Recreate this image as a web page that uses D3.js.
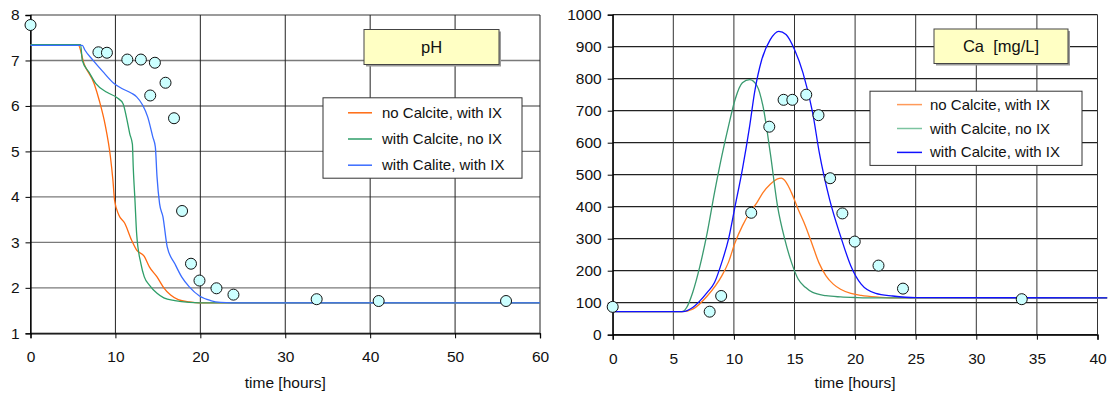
<!DOCTYPE html>
<html>
<head>
<meta charset="utf-8">
<script src="https://cdn.jsdelivr.net/npm/d3@7"></script>
<style>
  html, body { margin: 0; padding: 0; background: #fff; }
  svg { display: block; font-family: "Liberation Sans", Arial, sans-serif; }
</style>
</head>
<body>
<svg id="chart" width="1109" height="394"></svg>
<script>
// ---- pH panel: measured effluent pH ----
const phObsTime = [0, 8, 9, 11.4, 13, 14.65, 14.1, 15.9, 16.9, 17.85, 18.9, 19.9, 21.9, 23.9, 33.7, 41, 56];
const phObsValue = [7.78, 7.18, 7.17, 7.02, 7.02, 6.95, 6.23, 6.51, 5.73, 3.69, 2.53, 2.16, 1.99, 1.85, 1.75, 1.71, 1.71];

// simulated pH, no calcite with ion exchange
const phNoCalciteT = [0, 5.6, 6.3, 7.5, 8.1, 8.8, 9.4, 9.7, 9.9, 10.4, 11.1, 11.9, 12.5, 13.4, 14.0, 14.9, 15.7, 16.5, 17.4, 18.7, 19.9, 60];
const phNoCalciteV = [7.35, 7.35, 6.93, 6.49, 6.12, 5.58, 4.9, 4.38, 3.93, 3.6, 3.42, 3.05, 2.83, 2.69, 2.46, 2.24, 2.0, 1.84, 1.74, 1.69, 1.67, 1.67];
// simulated pH, calcite without ion exchange
const phCalciteNoIxT = [0, 5.9, 6.1, 6.9, 7.7, 9.0, 10.2, 10.9, 11.3, 11.7, 12.0, 12.1, 12.3, 12.5, 13.0, 13.4, 14.0, 14.9, 15.7, 17.0, 18.7, 19.9, 60];
const phCalciteNoIxV = [7.35, 7.35, 7.0, 6.74, 6.49, 6.3, 6.18, 6.05, 5.75, 5.38, 5.16, 4.65, 3.93, 3.19, 2.53, 2.24, 2.06, 1.88, 1.78, 1.72, 1.68, 1.67, 1.67];
// simulated pH, calcite with ion exchange
const phCalciteIxT = [0, 6.1, 6.4, 7.3, 8.5, 9.8, 10.7, 11.9, 12.5, 13.2, 13.8, 14.4, 14.7, 14.9, 15.2, 15.6, 16.1, 17.0, 17.8, 18.7, 19.9, 21.2, 22.4, 23.7, 60];
const phCalciteIxV = [7.33, 7.33, 7.23, 7.02, 6.76, 6.5, 6.39, 6.28, 6.2, 6.02, 5.76, 5.32, 5.1, 4.44, 3.85, 3.56, 2.9, 2.53, 2.24, 2.02, 1.82, 1.72, 1.68, 1.67, 1.67];

const phLegendLabels = ["no Calcite, with IX", "with Calcite, no IX", "with Calite, with IX"];
const phXTicks = [0, 10, 20, 30, 40, 50, 60];
const phYTicks = [1, 2, 3, 4, 5, 6, 7, 8];

// ---- Ca panel: measured effluent calcium ----
const caObsTime = [0, 8, 8.95, 11.43, 12.92, 14.1, 14.82, 15.97, 16.98, 17.94, 18.95, 19.97, 21.93, 23.95, 33.75];
const caObsValue = [87, 72, 121, 381, 650, 734, 734, 750, 686, 489, 379, 291, 216, 144, 111];

const caNoCalciteT = [0, 5.7, 6.6, 7.8, 9.0, 9.55, 10.1, 10.7, 11.3, 11.9, 12.4, 13.0, 13.6, 13.9, 14.3, 14.75, 15.3, 15.9, 16.5, 17.0, 17.6, 18.2, 18.8, 19.65, 20.5, 21.7, 23.1, 25, 40.8];
const caNoCalciteV = [72, 72, 80, 121, 184, 226, 288, 340, 381, 413, 444, 470, 487, 489, 477, 444, 392, 340, 278, 226, 184, 158, 142, 129, 123, 118, 115, 115, 115];
const caCalciteNoIxT = [0, 5.7, 6.1, 6.6, 7.2, 7.8, 8.4, 9.0, 9.55, 10.1, 10.7, 11.3, 11.9, 12.4, 13.0, 13.6, 14.2, 14.75, 15.3, 15.9, 16.5, 17.6, 18.8, 20.2, 21.7, 40.8];
const caCalciteNoIxV = [72, 72, 85, 132, 215, 319, 444, 558, 651, 735, 787, 797, 778, 714, 568, 402, 298, 226, 174, 148, 132, 122, 118, 116, 115, 115];
const caCalciteIxT = [0, 5.8, 6.6, 7.8, 8.4, 9.0, 9.55, 10.1, 10.7, 11.3, 11.7, 12.3, 13.0, 13.7, 14.3, 15.0, 15.7, 16.5, 17.05, 17.9, 18.8, 19.65, 20.5, 21.7, 23.1, 25, 40.8];
const caCalciteIxV = [72, 72, 85, 132, 163, 226, 298, 402, 517, 652, 756, 860, 922, 948, 938, 891, 818, 693, 568, 422, 308, 215, 158, 129, 121, 116, 115];

const caLegendLabels = ["no Calcite, with IX", "with Calcite, no IX", "with Calcite, with IX"];
const caXTicks = [0, 5, 10, 15, 20, 25, 30, 35, 40];
const caYTicks = [0, 100, 200, 300, 400, 500, 600, 700, 800, 900, 1000];

const svg = d3.select("#chart");

function zip(t, v) { return t.map((d, i) => [d, v[i]]); }

function drawPanel(cfg) {
  const g = svg.append("g");
  const x = d3.scaleLinear().domain(cfg.xDomain).range(cfg.xRange);
  const y = d3.scaleLinear().domain(cfg.yDomain).range(cfg.yRange);
  const [x0, x1] = cfg.xRange;
  const [y0, y1] = cfg.yRange;

  // horizontal grid
  g.append("g").selectAll("line").data(cfg.yTicks).join("line")
    .attr("x1", x0).attr("x2", x1)
    .attr("y1", d => y(d)).attr("y2", d => y(d))
    .attr("stroke", cfg.hGridColor).attr("stroke-width", cfg.hGridWidth);
  // vertical grid
  g.append("g").selectAll("line").data(cfg.xTicks).join("line")
    .attr("x1", d => x(d)).attr("x2", d => x(d))
    .attr("y1", y0).attr("y2", y1)
    .attr("stroke", cfg.vGridColor).attr("stroke-width", 1);

  // axes
  const fmt = d3.format("d");
  const xAxis = d3.axisBottom(x).tickValues(cfg.xTicks).tickFormat(fmt).tickSize(5).tickPadding(13);
  const yAxis = d3.axisLeft(y).tickValues(cfg.yTicks).tickFormat(fmt).tickSize(5).tickPadding(6);
  const gx = g.append("g").attr("transform", `translate(0,${y0})`).call(xAxis);
  const gy = g.append("g").attr("transform", `translate(${x0},0)`).call(yAxis);
  [gx, gy].forEach(a => {
    a.select(".domain").attr("stroke", "#000").attr("stroke-width", 1.3);
    a.selectAll(".tick line").attr("stroke", "#000");
    a.selectAll("text").attr("font-size", 15.5).attr("fill", "#111")
      .attr("font-family", "Liberation Sans, Arial, sans-serif");
  });

  g.append("text")
    .attr("x", (x0 + x1) / 2).attr("y", 388)
    .attr("text-anchor", "middle").attr("font-size", 15.5).attr("fill", "#111")
    .text("time [hours]");

  // model curves
  const line = d3.line().x(d => x(d[0])).y(d => y(d[1])).curve(d3.curveMonotoneX);
  cfg.series.forEach(s => {
    g.append("path").datum(zip(s.t, s.v))
      .attr("d", line).attr("fill", "none")
      .attr("stroke", s.color).attr("stroke-width", 1.3);
  });

  // observations
  g.append("g").selectAll("circle").data(zip(cfg.obsT, cfg.obsV)).join("circle")
    .attr("cx", d => x(d[0])).attr("cy", d => y(d[1])).attr("r", 5.5)
    .attr("fill", "#ccffff").attr("stroke", "#111").attr("stroke-width", 1);

  // title box
  const tb = cfg.titleBox;
  g.append("rect").attr("x", tb.x + 2).attr("y", tb.y + 2).attr("width", tb.w).attr("height", tb.h)
    .attr("fill", "#9a9a9a");
  g.append("rect").attr("x", tb.x).attr("y", tb.y).attr("width", tb.w).attr("height", tb.h)
    .attr("fill", "#ffffc4").attr("stroke", "#444").attr("stroke-width", 1);
  g.append("text").attr("x", tb.x + tb.w / 2).attr("y", tb.y + tb.h / 2 + 6)
    .attr("text-anchor", "middle").attr("font-size", 16.5).attr("fill", "#111")
    .style("white-space", "pre").text(cfg.title);

  // legend
  const lg = cfg.legend;
  g.append("rect").attr("x", lg.x).attr("y", lg.y).attr("width", lg.w).attr("height", lg.h)
    .attr("fill", "#fff").attr("stroke", "#333").attr("stroke-width", 1);
  cfg.series.forEach((s, i) => {
    const ry = lg.rowY + i * lg.rowGap;
    g.append("line").attr("x1", lg.sx0).attr("x2", lg.sx1).attr("y1", ry).attr("y2", ry)
      .attr("stroke", s.legendColor || s.color).attr("stroke-width", 1.5);
    g.append("text").attr("x", lg.tx).attr("y", ry + 5)
      .attr("font-size", 15).attr("fill", "#111").text(cfg.legendLabels[i]);
  });
}

drawPanel({
  xDomain: [0, 60], xRange: [30.5, 540],
  yDomain: [1, 8], yRange: [333.3, 15],
  xTicks: phXTicks, yTicks: phYTicks,
  hGridColor: "#7a7a7a", hGridWidth: 1.4, vGridColor: "#222",
  obsT: phObsTime, obsV: phObsValue,
  series: [
    { t: phNoCalciteT, v: phNoCalciteV, color: "#ff6a10" },
    { t: phCalciteNoIxT, v: phCalciteNoIxV, color: "#2e9e68" },
    { t: phCalciteIxT, v: phCalciteIxV, color: "#3a6cff" }
  ],
  legendLabels: phLegendLabels,
  title: "pH",
  titleBox: { x: 364, y: 29.5, w: 135, h: 35 },
  legend: { x: 323, y: 97.8, w: 199, h: 80.4, rowY: 112.8, rowGap: 26.2, sx0: 348, sx1: 372, tx: 382 }
});

drawPanel({
  xDomain: [0, 40], xRange: [612.7, 1097.5],
  yDomain: [0, 1000], yRange: [334.7, 14.7],
  xTicks: caXTicks, yTicks: caYTicks,
  hGridColor: "#222", hGridWidth: 1.2, vGridColor: "#333",
  obsT: caObsTime, obsV: caObsValue,
  series: [
    { t: caNoCalciteT, v: caNoCalciteV, color: "#ff7a20", legendColor: "#ff9a5a" },
    { t: caCalciteNoIxT, v: caCalciteNoIxV, color: "#3a9a70", legendColor: "#7cc4a0" },
    { t: caCalciteIxT, v: caCalciteIxV, color: "#1010ff" }
  ],
  legendLabels: caLegendLabels,
  title: "Ca  [mg/L]",
  titleBox: { x: 934, y: 29, w: 134, h: 34.5 },
  legend: { x: 870, y: 91.2, w: 212, h: 74.2, rowY: 104.6, rowGap: 23.9, sx0: 897, sx1: 922, tx: 930 }
});
</script>
</body>
</html>
